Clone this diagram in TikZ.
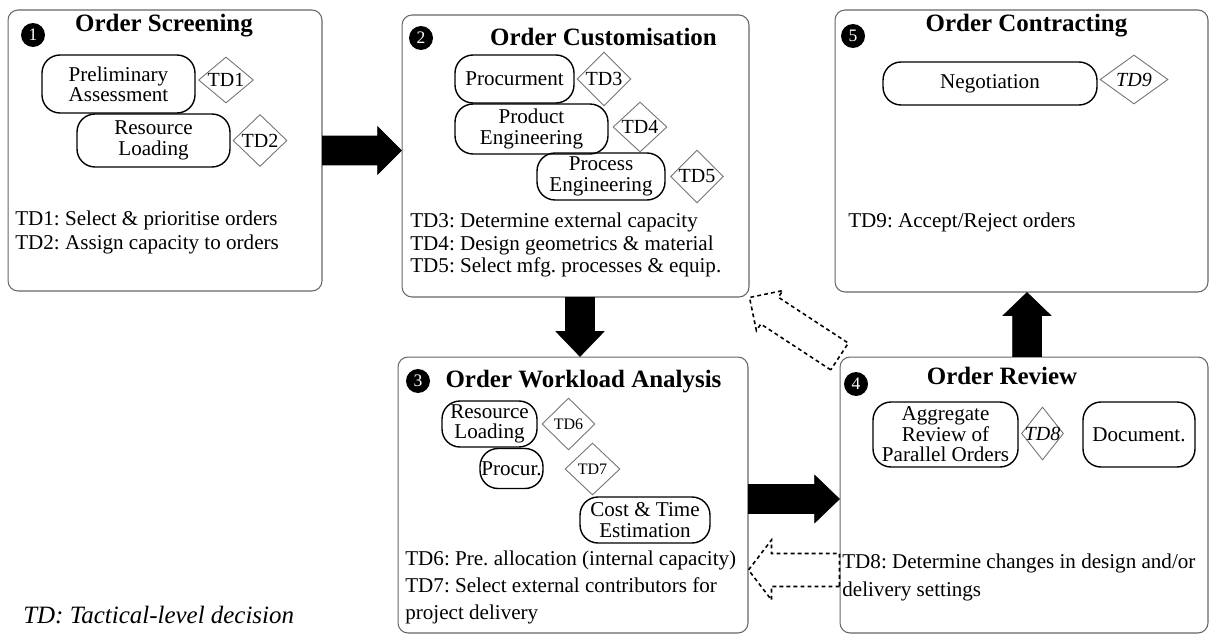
\documentclass[tikz,border=0pt]{standalone}
\usepackage{fontspec}
\setmainfont{Liberation Serif}
\usetikzlibrary{calc,shapes.geometric}
\frenchspacing

\newcommand{\blockarrow}[6][]{%
	\coordinate (ab) at ($(#3)!#6!(#2)$);
	\draw[#1] ($(#2)!#4!90:(#3)$) -- ($(ab)!#4!90:(#3)$) -- ($(ab)!#5!90:(#3)$) -- (#3)
		-- ($(ab)!#5!-90:(#3)$) -- ($(ab)!#4!-90:(#3)$) -- ($(#2)!#4!-90:(#3)$) -- cycle;
}

\begin{document}
\begin{tikzpicture}
	[x=0.02cm,y=-0.02cm,
	stage/.style={draw=black!60,line width=0.6pt,rounded corners=0.2cm,inner sep=0pt},
	task/.style={draw,line width=0.8pt,rounded corners=0.36cm,align=center,inner sep=0pt,font=\fontsize{12}{11.6}\selectfont},
	td/.style={diamond,draw=black!55,line width=0.5pt,inner sep=-2pt,font=\fontsize{11.4}{12}\selectfont},
	heading/.style={anchor=base,inner sep=0pt,font=\fontsize{14.2}{17}\selectfont\bfseries},
	notes/.style={anchor=north west,align=left,inner sep=0pt,font=\fontsize{12}{13.7}\selectfont},
	num/.style={circle,fill=black,text=white,inner sep=0pt,minimum size=0.48cm,font=\fontsize{10}{10}\selectfont},
	fatarrow/.style={fill=black,draw=black,line width=0.3pt},
	backarrow/.style={draw=black,line width=0.9pt,dash pattern=on 2.2pt off 1.8pt}]
	\useasboundingbox (0,0) rectangle (1210,635);

	\node[stage,minimum width=6.28cm,minimum height=5.62cm] (screen) at (165,150.5) {};
	\node[stage,minimum width=6.94cm,minimum height=5.64cm] (custom) at (575.5,156) {};
	\node[stage,minimum width=7.46cm,minimum height=5.64cm] (contract) at (1021.5,151) {};
	\node[stage,minimum width=7cm,minimum height=5.52cm] (workload) at (573,495) {};
	\node[stage,minimum width=7.36cm,minimum height=5.52cm] (review) at (1024,495) {};

	\node[num] (n1) at (33,35) {1};
	\node[heading] (h1) at (164,32) {Order Screening};
	\node[task,minimum width=3.06cm,minimum height=1.16cm] (prelim) at (118.5,84) {Preliminary\\Assessment};
	\node[td,minimum width=1.1cm,minimum height=0.92cm] (td1) at (226,80) {TD1};
	\node[task,minimum width=3.06cm,minimum height=1.06cm] (load1) at (153.5,140.5) {Resource\\Loading};
	\node[td,minimum width=1.08cm,minimum height=1.04cm] (td2) at (260,140.5) {TD2};
	\node[notes] (d1) at (15,210.5) {TD1: Select \& prioritise orders\\TD2: Assign capacity to orders};

	\node[num] (n2) at (421,38) {2};
	\node[heading] (h2) at (603.5,46) {Order Customisation};
	\node[task,minimum width=2.38cm,minimum height=0.96cm] (procure) at (514.5,79) {Procurment};
	\node[td,minimum width=1.08cm,minimum height=1.08cm] (td3) at (604,79) {TD3};
	\node[task,minimum width=3.06cm,minimum height=1cm] (prodeng) at (531.5,129) {Product\\Engineering};
	\node[td,minimum width=1.08cm,minimum height=1cm] (td4) at (640,127) {TD4};
	\node[task,minimum width=2.56cm,minimum height=0.94cm] (proceng) at (601,176.5) {Process\\Engineering};
	\node[td,minimum width=1.06cm,minimum height=1.06cm] (td5) at (697,176.5) {TD5};
	\node[notes,font=\fontsize{12}{12.8}\selectfont] (d2) at (410,213) {TD3: Determine external capacity\\TD4: Design geometrics \& material\\TD5: Select mfg. processes \& equip.};

	\node[num] (n5) at (853,36) {5};
	\node[heading] (h5) at (1026.5,31.5) {Order Contracting};
	\node[task,minimum width=4.28cm,minimum height=0.86cm] (nego) at (990,83.5) {Negotiation};
	\node[td,minimum width=1.36cm,minimum height=0.98cm,font=\fontsize{11.4}{12}\selectfont\itshape] (td9) at (1134,79.5) {TD9};
	\node[notes] (d5) at (848,212.5) {TD9: Accept/Reject orders};

	\node[num] (n3) at (418,381) {3};
	\node[heading] (h3) at (583.5,387) {Order Workload Analysis};
	\node[task,minimum width=1.9cm,minimum height=0.92cm] (load3) at (489.5,424) {Resource\\Loading};
	\node[td,minimum width=1.06cm,minimum height=1.04cm,font=\fontsize{9.1}{10}\selectfont] (td6) at (568.5,424) {TD6};
	\node[task,minimum width=1.26cm,minimum height=0.8cm] (procur) at (511.5,468.5) {Procur.};
	\node[td,minimum width=1.1cm,minimum height=1.04cm,font=\fontsize{9.1}{10}\selectfont] (td7) at (592.5,469) {TD7};
	\node[task,minimum width=2.6cm,minimum height=0.92cm] (cost) at (645,520) {Cost \& Time\\Estimation};
	\node[notes,font=\fontsize{12}{15.1}\selectfont] (d3) at (405,551) {TD6: Pre. allocation (internal capacity)\\TD7: Select external contributors for\\project delivery};

	\node[num] (n4) at (856,384) {4};
	\node[heading] (h4) at (1002,384) {Order Review};
	\node[task,minimum width=2.9cm,minimum height=1.3cm] (aggr) at (945.5,434.5) {Aggregate\\Review of\\Parallel Orders};
	\node[td,minimum width=0.84cm,minimum height=1.06cm,font=\fontsize{11.4}{12}\selectfont\itshape] (td8) at (1042.5,433.5) {TD8};
	\node[task,minimum width=2.24cm,minimum height=1.3cm] (docu) at (1139,434.5) {Document.};
	\node[notes,font=\fontsize{12}{15.4}\selectfont] (d4) at (842,554) {TD8: Determine changes in design and/or\\delivery settings};

	\node[anchor=base west,inner sep=0pt,font=\fontsize{14.2}{17}\selectfont\itshape] (legend) at (23,623) {TD: Tactical-level decision};

	\coordinate (s12) at (screen.east);
	\coordinate (e12) at (screen.east -| custom.west);
	\blockarrow[fatarrow]{s12}{e12}{0.29cm}{0.48cm}{0.48cm}
	\coordinate (s23) at ([xshift=0.09cm]custom.south);
	\coordinate (e23) at (s23 |- workload.north);
	\blockarrow[fatarrow]{s23}{e23}{0.29cm}{0.48cm}{0.5cm}
	\coordinate (s34) at ([yshift=-0.08cm]workload.east);
	\coordinate (e34) at (s34 -| review.west);
	\blockarrow[fatarrow]{s34}{e34}{0.29cm}{0.48cm}{0.5cm}
	\coordinate (s45) at ([xshift=0.06cm]review.north);
	\coordinate (e45) at (s45 |- contract.south);
	\blockarrow[fatarrow]{s45}{e45}{0.29cm}{0.48cm}{0.46cm}

	\coordinate (s43) at ([yshift=-1.5cm]review.west);
	\coordinate (e43) at (s43 -| workload.east);
	\blockarrow[backarrow]{s43}{e43}{0.33cm}{0.6cm}{0.46cm}
	\blockarrow[backarrow]{review.north west}{custom.south east}{0.32cm}{0.48cm}{0.48cm}
\end{tikzpicture}
\end{document}
